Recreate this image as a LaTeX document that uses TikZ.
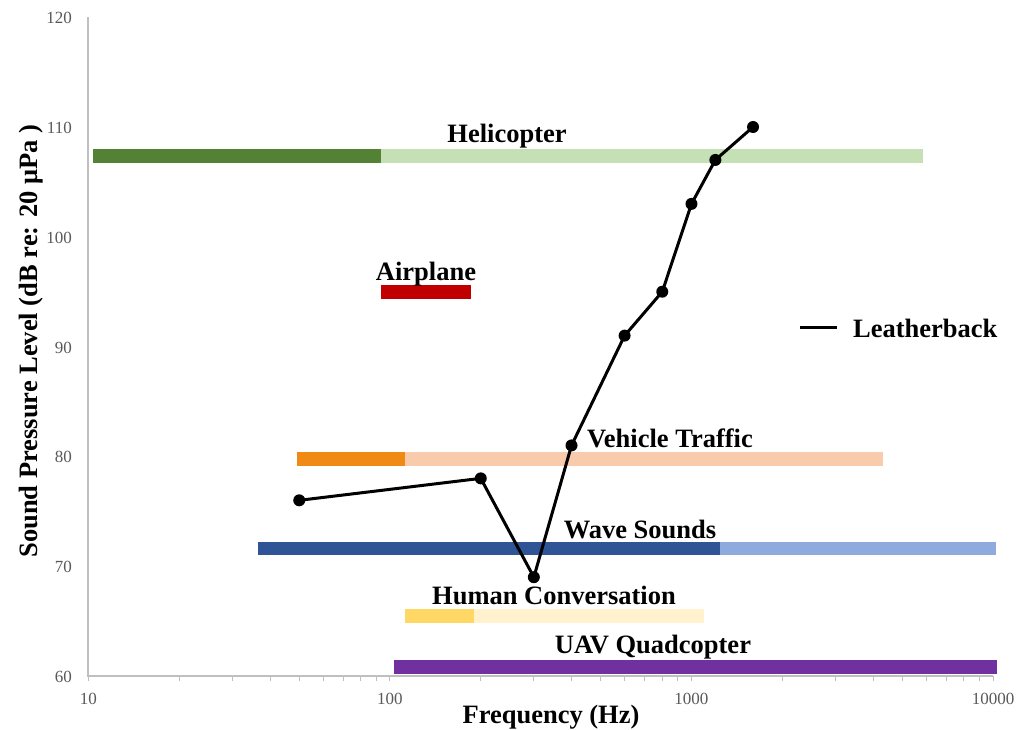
\documentclass[tikz,border=0pt]{standalone}
\usepackage{fontspec}
\setmainfont{Liberation Serif}
\definecolor{axisgray}{RGB}{191,191,191}
\definecolor{tickgray}{RGB}{89,89,89}
\definecolor{heliDark}{RGB}{84,130,53}
\definecolor{heliLight}{RGB}{197,224,180}
\definecolor{airRed}{RGB}{192,0,0}
\definecolor{vehDark}{RGB}{240,138,20}
\definecolor{vehLight}{RGB}{248,203,173}
\definecolor{waveDark}{RGB}{47,85,151}
\definecolor{waveLight}{RGB}{143,170,220}
\definecolor{humDark}{RGB}{255,215,100}
\definecolor{humLight}{RGB}{255,242,204}
\definecolor{uavPurple}{RGB}{112,48,160}
\begin{document}
\begin{tikzpicture}[x=1pt,y=-1pt,
  declare function={px(\f)=88.5+301.5*(log10(\f)-1); py(\d)=676-10.98*(\d-60);},
  axisline/.style={draw=axisgray,line width=1.5pt},
  minortick/.style={draw=axisgray,line width=1pt},
  ticklab/.style={text=tickgray,font=\fontsize{17}{20}\selectfont,inner sep=0pt},
  barlab/.style={font=\fontsize{26.5}{30}\selectfont\bfseries,inner sep=0pt},
  dot/.style={circle,fill=black,inner sep=0pt,minimum size=12pt},
  trace/.style={line width=3pt,black,line join=round}]
\useasboundingbox (0,0) rectangle (1031,730);

% axes
\coordinate (origin) at (88,676);
\coordinate (ytop) at (88,17);
\coordinate (xend) at (993,676);
\draw[axisline] (ytop) -- (origin) -- (xend);

% logarithmic minor ticks along the frequency axis
\foreach \dec in {10,100,1000}{
  \foreach \m in {1,...,9}{
    \draw[minortick] ({px(\dec*\m)},676) -- ++(0,5);
  }
}
\draw[minortick] ({px(10000)},676) -- ++(0,5);

% tick labels
\foreach \v in {60,70,...,120}{
  \node[ticklab,anchor=east] (ylab\v) at (72,{py(\v)+1}) {\v};
}
\foreach \f in {10,100,1000,10000}{
  \node[ticklab,anchor=north] (xlab\f) at ({px(\f)},693) {\f};
}

% axis titles
\node[barlab,anchor=base] (xtitle) at (551,723) {Frequency (Hz)};
\node[barlab,anchor=base,rotate=90] (ytitle) at (37,341) {Sound Pressure Level (dB re: 20 μPa )};

% source bands
\fill[heliDark]  (93,149) rectangle (381,163);
\fill[heliLight] (381,149) rectangle (923,163);
\node[barlab,anchor=base] (heli) at (507,143) {Helicopter};

\fill[airRed] (381,285) rectangle (471,299);
\node[barlab,anchor=base] (air) at (426,280) {Airplane};

\fill[vehDark]  (297,452) rectangle (405,466);
\fill[vehLight] (405,452) rectangle (883,466);
\node[barlab,anchor=base] (veh) at (670,447) {Vehicle Traffic};

\fill[waveDark]  (258,542) rectangle (720,555);
\fill[waveLight] (720,542) rectangle (996,555);
\node[barlab,anchor=base] (wave) at (640,538) {Wave Sounds};

\fill[humDark]  (405,609) rectangle (474,623);
\fill[humLight] (474,609) rectangle (704,623);
\node[barlab,anchor=base] (hum) at (554,604) {Human Conversation};

\fill[uavPurple] (394,660) rectangle (997,674);
\node[barlab,anchor=base] (uav) at (653,653) {UAV Quadcopter};

% leatherback hearing curve
\foreach \n/\f/\d in {1/50/76,2/200/78,3/300/69,4/400/81,5/600/91,6/800/95,7/1000/103,8/1200/107,9/1600/110}{
  \coordinate (l\n) at ({px(\f)},{py(\d)});
}
\draw[trace] (l1) -- (l2) -- (l3) -- (l4) -- (l5) -- (l6) -- (l7) -- (l8) -- (l9);
\foreach \n in {1,...,9}{
  \node[dot] (d\n) at (l\n) {};
}

% legend
\coordinate (legA) at (800,327);
\coordinate (legB) at (837,327);
\draw[trace] (legA) -- (legB);
\node[barlab,anchor=base west] (legtext) at (853,337) {Leatherback};
\end{tikzpicture}
\end{document}
